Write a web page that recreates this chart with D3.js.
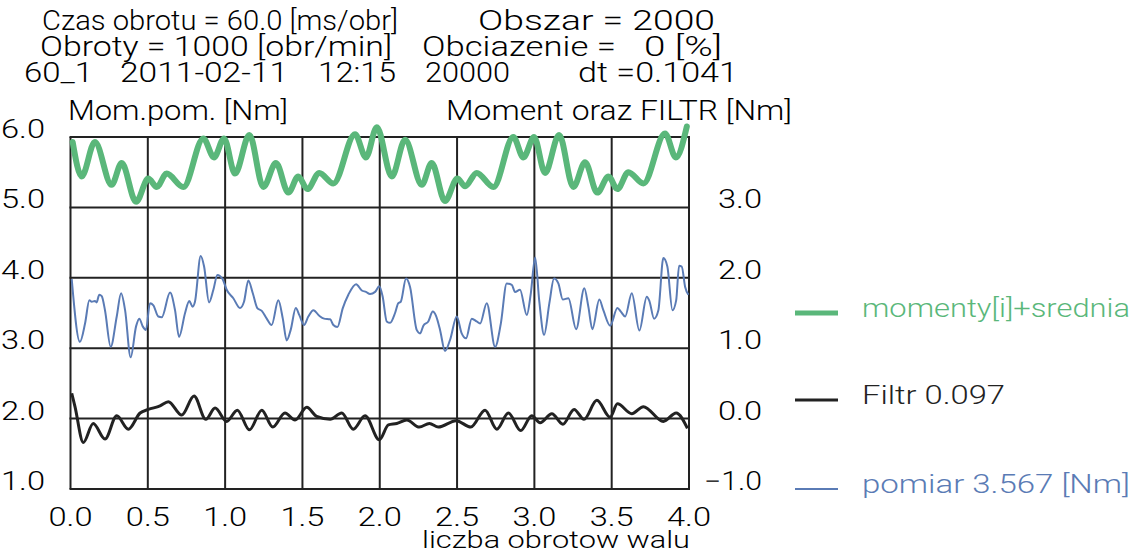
<!DOCTYPE html>
<html>
<head>
<meta charset="utf-8">
<script src="https://cdn.jsdelivr.net/npm/d3@7"></script>
<style>
  body { margin: 0; background: #fff; }
  text { font-family: Roboto, "DejaVu Sans", sans-serif; font-weight: 300; white-space: pre; }
</style>
</head>
<body>
<div class="chart"></div>
<script>
// Chart data (x = liczba obrotow walu)
const xTicks = [0, 0.5, 1, 1.5, 2, 2.5, 3, 3.5, 4];
const leftTicks = [1, 2, 3, 4, 5, 6];
const rightTicks = [-1, 0, 1, 2, 3];

// momenty[i]+srednia, right axis
const momenty = [[0.014,3.93],[0.072,3.44],[0.158,3.93],[0.266,3.32],[0.331,3.63],[0.424,3.08],[0.503,3.41],[0.558,3.29],[0.622,3.48],[0.730,3.29],[0.859,3.98],[0.928,3.71],[0.993,3.98],[1.064,3.48],[1.157,4.03],[1.247,3.29],[1.329,3.63],[1.409,3.21],[1.473,3.44],[1.532,3.26],[1.609,3.49],[1.700,3.34],[1.840,4.04],[1.911,3.71],[1.981,4.14],[2.078,3.44],[2.164,3.96],[2.272,3.32],[2.336,3.63],[2.422,3.09],[2.502,3.41],[2.552,3.30],[2.627,3.49],[2.735,3.29],[2.864,4.00],[2.929,3.71],[2.998,4.00],[3.069,3.49],[3.160,4.03],[3.252,3.29],[3.328,3.64],[3.407,3.21],[3.479,3.44],[3.537,3.26],[3.608,3.50],[3.705,3.34],[3.845,4.05],[3.915,3.71],[3.986,4.15]];

// Filtr, right axis
const filtr = [[0.008,0.36],[0.029,0.17],[0.083,-0.34],[0.147,-0.07],[0.223,-0.29],[0.299,0.04],[0.374,-0.15],[0.450,0.08],[0.503,0.13],[0.579,0.18],[0.633,0.24],[0.719,0.05],[0.799,0.32],[0.875,-0.01],[0.935,0.15],[1.010,-0.04],[1.079,0.12],[1.157,-0.16],[1.237,0.12],[1.308,-0.12],[1.387,0.08],[1.452,-0.02],[1.528,0.16],[1.592,0.03],[1.679,-0.01],[1.754,0.08],[1.829,-0.15],[1.905,0.04],[1.997,-0.30],[2.056,-0.09],[2.110,-0.07],[2.175,-0.02],[2.256,-0.12],[2.321,-0.07],[2.379,-0.12],[2.494,-0.03],[2.589,-0.12],[2.681,0.12],[2.757,-0.15],[2.832,0.08],[2.912,-0.17],[2.983,0.04],[3.037,-0.06],[3.113,0.07],[3.184,-0.08],[3.257,0.13],[3.321,-0.01],[3.404,0.26],[3.490,0.02],[3.537,0.21],[3.630,0.07],[3.705,0.17],[3.834,-0.04],[3.917,0.08],[3.990,-0.14]];

// pomiar, left axis
const pomiar = [[0.008,3.98],[0.061,3.09],[0.094,3.35],[0.122,3.68],[0.137,3.66],[0.158,3.67],[0.169,3.65],[0.186,3.76],[0.202,3.74],[0.223,3.54],[0.260,3.02],[0.299,3.45],[0.327,3.78],[0.353,3.54],[0.389,2.87],[0.424,3.31],[0.445,3.42],[0.467,3.31],[0.488,3.26],[0.514,3.64],[0.536,3.61],[0.568,3.45],[0.590,3.44],[0.644,3.79],[0.676,3.54],[0.702,3.16],[0.741,3.50],[0.768,3.67],[0.790,3.59],[0.805,3.66],[0.842,4.31],[0.864,4.16],[0.896,3.65],[0.924,3.83],[0.950,4.04],[0.984,3.98],[1.010,3.83],[1.053,3.71],[1.096,3.57],[1.122,3.66],[1.150,3.96],[1.179,3.78],[1.208,3.57],[1.237,3.53],[1.269,3.42],[1.301,3.33],[1.344,3.68],[1.373,3.42],[1.398,3.11],[1.424,3.26],[1.457,3.57],[1.480,3.47],[1.510,3.33],[1.538,3.45],[1.571,3.54],[1.609,3.46],[1.640,3.42],[1.679,3.41],[1.700,3.33],[1.726,3.30],[1.761,3.57],[1.797,3.76],[1.847,3.91],[1.884,3.82],[1.911,3.80],[1.937,3.77],[1.970,3.80],[1.997,3.88],[2.019,3.73],[2.045,3.38],[2.067,3.36],[2.099,3.50],[2.120,3.64],[2.136,3.66],[2.170,3.99],[2.196,3.87],[2.239,3.26],[2.261,3.21],[2.282,3.32],[2.314,3.38],[2.343,3.52],[2.364,3.46],[2.390,3.26],[2.422,2.96],[2.455,3.12],[2.498,3.45],[2.530,3.21],[2.558,3.14],[2.595,3.42],[2.627,3.38],[2.649,3.35],[2.692,3.64],[2.746,3.02],[2.783,3.35],[2.821,3.92],[2.854,3.90],[2.875,3.80],[2.907,3.83],[2.951,3.47],[2.977,3.78],[3.005,4.29],[3.032,3.66],[3.063,3.19],[3.097,3.64],[3.127,3.99],[3.155,3.92],[3.184,3.69],[3.220,3.71],[3.270,3.27],[3.323,3.85],[3.349,3.59],[3.375,3.27],[3.420,3.69],[3.446,3.54],[3.490,3.32],[3.537,3.57],[3.559,3.52],[3.587,3.45],[3.630,3.78],[3.679,3.25],[3.727,3.73],[3.744,3.67],[3.774,3.42],[3.802,3.54],[3.834,4.28],[3.860,4.16],[3.893,3.54],[3.917,3.68],[3.936,4.17],[3.953,4.16],[3.975,3.87],[3.996,3.76]];

// Header text lines: [text, x start, x end]
const headerLines = [
    [["Czas obrotu = 60.0 [ms/obr]", 42, 398], ["Obszar = 2000", 478, 715]],
    [["Obroty = 1000 [obr/min]", 40, 392], ["Obciazenie =", 422, 616], ["0 [%]", 644, 722]],
    [["60_1", 24, 93], ["2011-02-11", 120, 288], ["12:15", 318, 396], ["20000", 425, 510], ["dt =0.1041", 578, 738]]
];

const colors = { green: "#5ab77a", black: "#222", blue: "#5a7bb5" };

let width = 1137;
let height = 553;

let svg = d3.select(".chart").append("svg")
    .attr("width", width)
    .attr("height", height)
    .attr("viewBox", `0 0 ${width} ${height}`);

// Scales
const xScale = d3.scaleLinear().domain([0, 4]).range([70.5, 689]);
const yLeft = d3.scaleLinear().domain([1, 6]).range([489, 137]);
const yRight = d3.scaleLinear().domain([-1, 4]).range([489, 137]);

// Header
headerLines.forEach((line, i) => {
    line.forEach(([t, x0, x1]) => {
        svg.append("text")
            .attr("x", x0)
            .attr("y", 30 + i * 26)
            .attr("font-size", 28)
            .attr("textLength", x1 - x0)
            .attr("lengthAdjust", "spacingAndGlyphs")
            .text(t);
    });
});

// Axis titles
svg.append("text").attr("x", 68).attr("y", 120).attr("font-size", 27)
    .attr("textLength", 220).attr("lengthAdjust", "spacingAndGlyphs").text("Mom.pom. [Nm]");
svg.append("text").attr("x", 446).attr("y", 120).attr("font-size", 27)
    .attr("textLength", 346).attr("lengthAdjust", "spacingAndGlyphs").text("Moment oraz FILTR [Nm]");
svg.append("text").attr("x", 422).attr("y", 548).attr("font-size", 24)
    .attr("textLength", 268).attr("lengthAdjust", "spacingAndGlyphs").text("liczba obrotow walu");

// Grid
const grid = svg.append("g").attr("stroke", "#222").attr("stroke-width", 2);
grid.selectAll(".vline").data(xTicks).enter().append("line")
    .attr("x1", d => xScale(d)).attr("x2", d => xScale(d))
    .attr("y1", yLeft(6)).attr("y2", yLeft(1));
grid.selectAll(".hline").data(leftTicks).enter().append("line")
    .attr("x1", xScale(0) - 1).attr("x2", xScale(4) + 1)
    .attr("y1", d => yLeft(d)).attr("y2", d => yLeft(d));

// Tick labels (widened to the plotter's lettering)
svg.selectAll(".xlab").data(xTicks).enter().append("text")
    .attr("x", d => xScale(d) - 22).attr("y", 526)
    .attr("font-size", 25)
    .attr("textLength", 44).attr("lengthAdjust", "spacingAndGlyphs")
    .text(d => d.toFixed(1));
svg.selectAll(".llab").data(leftTicks).enter().append("text")
    .attr("x", 1).attr("y", d => yLeft(d) + 1)
    .attr("font-size", 25)
    .attr("textLength", 44).attr("lengthAdjust", "spacingAndGlyphs")
    .text(d => d.toFixed(1));
svg.selectAll(".rlab").data(rightTicks).enter().append("text")
    .attr("x", d => d < 0 ? 704 : 718).attr("y", d => yRight(d) + 1)
    .attr("font-size", 25)
    .attr("textLength", d => d < 0 ? 58 : 44).attr("lengthAdjust", "spacingAndGlyphs")
    .text(d => d < 0 ? "\u2212" + Math.abs(d).toFixed(1) : d.toFixed(1));

// Lines
const lineRight = d3.line().x(d => xScale(d[0])).y(d => yRight(d[1])).curve(d3.curveMonotoneX);
const lineLeft = d3.line().x(d => xScale(d[0])).y(d => yLeft(d[1])).curve(d3.curveMonotoneX);

svg.append("path").datum(filtr).attr("d", lineRight)
    .attr("fill", "none").attr("stroke", colors.black).attr("stroke-width", 3);
svg.append("path").datum(pomiar).attr("d", lineLeft)
    .attr("fill", "none").attr("stroke", colors.blue).attr("stroke-width", 2);
svg.append("path").datum(momenty).attr("d", lineRight)
    .attr("fill", "none").attr("stroke", colors.green).attr("stroke-width", 6)
    .attr("stroke-linejoin", "round").attr("stroke-linecap", "round");

// Legend
const legend = [
    { label: "momenty[i]+srednia", color: colors.green, w: 5, y: 313, len: 268 },
    { label: "Filtr 0.097", color: colors.black, w: 3, y: 400, len: 143 },
    { label: "pomiar 3.567 [Nm]", color: colors.blue, w: 2, y: 489, len: 268 }
];
legend.forEach(d => {
    svg.append("line").attr("x1", 795).attr("x2", 838).attr("y1", d.y).attr("y2", d.y)
        .attr("stroke", d.color).attr("stroke-width", d.w);
    svg.append("text").attr("x", 862).attr("y", d.y + 4).attr("font-size", 26)
        .attr("fill", d.color)
        .attr("textLength", d.len).attr("lengthAdjust", "spacingAndGlyphs")
        .text(d.label);
});
</script>
</body>
</html>
